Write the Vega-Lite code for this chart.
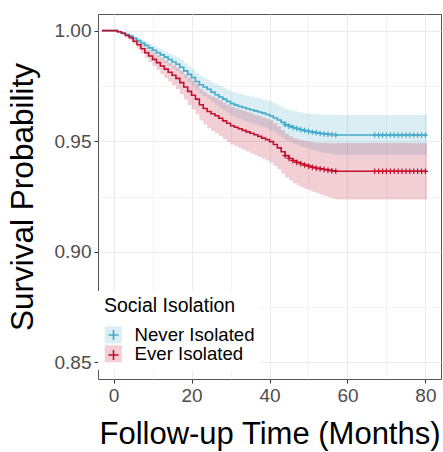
{
  "$schema": "https://vega.github.io/schema/vega-lite/v6.json",
  "description": "Kaplan-Meier survival by social isolation",
  "width": 343,
  "height": 365,
  "autosize": "none",
  "padding": {"left": 98, "top": 14, "right": 2, "bottom": 73},
  "datasets": {
    "curves": [
      {"time": -3, "group": "Never Isolated", "surv": 1.0, "lower": 1.0, "upper": 1.0},
      {"time": 0, "group": "Never Isolated", "surv": 1.0, "lower": 1.0, "upper": 1.0},
      {"time": 1, "group": "Never Isolated", "surv": 0.9995, "lower": 0.9992, "upper": 0.9998},
      {"time": 2, "group": "Never Isolated", "surv": 0.9988, "lower": 0.9983, "upper": 0.9993},
      {"time": 3, "group": "Never Isolated", "surv": 0.9982, "lower": 0.9975, "upper": 0.9989},
      {"time": 4, "group": "Never Isolated", "surv": 0.9975, "lower": 0.9966, "upper": 0.9984},
      {"time": 5, "group": "Never Isolated", "surv": 0.9965, "lower": 0.9955, "upper": 0.9975},
      {"time": 6, "group": "Never Isolated", "surv": 0.9955, "lower": 0.9943, "upper": 0.9967},
      {"time": 7, "group": "Never Isolated", "surv": 0.9944, "lower": 0.993, "upper": 0.9958},
      {"time": 8, "group": "Never Isolated", "surv": 0.9933, "lower": 0.9917, "upper": 0.9949},
      {"time": 9, "group": "Never Isolated", "surv": 0.9922, "lower": 0.9904, "upper": 0.994},
      {"time": 10, "group": "Never Isolated", "surv": 0.9911, "lower": 0.9891, "upper": 0.9931},
      {"time": 11, "group": "Never Isolated", "surv": 0.99, "lower": 0.9878, "upper": 0.9922},
      {"time": 12, "group": "Never Isolated", "surv": 0.989, "lower": 0.9866, "upper": 0.9914},
      {"time": 13, "group": "Never Isolated", "surv": 0.988, "lower": 0.9854, "upper": 0.9906},
      {"time": 14, "group": "Never Isolated", "surv": 0.9869, "lower": 0.9841, "upper": 0.9897},
      {"time": 15, "group": "Never Isolated", "surv": 0.9858, "lower": 0.9828, "upper": 0.9888},
      {"time": 16, "group": "Never Isolated", "surv": 0.9848, "lower": 0.9817, "upper": 0.9879},
      {"time": 17, "group": "Never Isolated", "surv": 0.9834, "lower": 0.9801, "upper": 0.9867},
      {"time": 18, "group": "Never Isolated", "surv": 0.9818, "lower": 0.9784, "upper": 0.9852},
      {"time": 19, "group": "Never Isolated", "surv": 0.9802, "lower": 0.9766, "upper": 0.9838},
      {"time": 20, "group": "Never Isolated", "surv": 0.9788, "lower": 0.9751, "upper": 0.9825},
      {"time": 21, "group": "Never Isolated", "surv": 0.977, "lower": 0.9731, "upper": 0.9809},
      {"time": 22, "group": "Never Isolated", "surv": 0.9755, "lower": 0.9715, "upper": 0.9795},
      {"time": 23, "group": "Never Isolated", "surv": 0.9745, "lower": 0.9703, "upper": 0.9787},
      {"time": 24, "group": "Never Isolated", "surv": 0.9735, "lower": 0.9692, "upper": 0.9778},
      {"time": 25, "group": "Never Isolated", "surv": 0.9722, "lower": 0.9677, "upper": 0.9767},
      {"time": 26, "group": "Never Isolated", "surv": 0.971, "lower": 0.9663, "upper": 0.9757},
      {"time": 27, "group": "Never Isolated", "surv": 0.97, "lower": 0.9651, "upper": 0.9749},
      {"time": 28, "group": "Never Isolated", "surv": 0.969, "lower": 0.9639, "upper": 0.9741},
      {"time": 29, "group": "Never Isolated", "surv": 0.968, "lower": 0.9627, "upper": 0.9733},
      {"time": 30, "group": "Never Isolated", "surv": 0.967, "lower": 0.9615, "upper": 0.9725},
      {"time": 31, "group": "Never Isolated", "surv": 0.9663, "lower": 0.9607, "upper": 0.9719},
      {"time": 32, "group": "Never Isolated", "surv": 0.9657, "lower": 0.96, "upper": 0.9714},
      {"time": 33, "group": "Never Isolated", "surv": 0.9652, "lower": 0.9594, "upper": 0.971},
      {"time": 34, "group": "Never Isolated", "surv": 0.9647, "lower": 0.9588, "upper": 0.9706},
      {"time": 35, "group": "Never Isolated", "surv": 0.9642, "lower": 0.9582, "upper": 0.9702},
      {"time": 36, "group": "Never Isolated", "surv": 0.9637, "lower": 0.9576, "upper": 0.9698},
      {"time": 37, "group": "Never Isolated", "surv": 0.9632, "lower": 0.957, "upper": 0.9694},
      {"time": 38, "group": "Never Isolated", "surv": 0.9627, "lower": 0.9564, "upper": 0.969},
      {"time": 39, "group": "Never Isolated", "surv": 0.9621, "lower": 0.9557, "upper": 0.9685},
      {"time": 40, "group": "Never Isolated", "surv": 0.9614, "lower": 0.9549, "upper": 0.9679},
      {"time": 41, "group": "Never Isolated", "surv": 0.9605, "lower": 0.9539, "upper": 0.9671},
      {"time": 42, "group": "Never Isolated", "surv": 0.9596, "lower": 0.9528, "upper": 0.9664},
      {"time": 43, "group": "Never Isolated", "surv": 0.9585, "lower": 0.9516, "upper": 0.9654},
      {"time": 44, "group": "Never Isolated", "surv": 0.9575, "lower": 0.9504, "upper": 0.9646},
      {"time": 45, "group": "Never Isolated", "surv": 0.9568, "lower": 0.9496, "upper": 0.964},
      {"time": 46, "group": "Never Isolated", "surv": 0.9562, "lower": 0.9488, "upper": 0.9636},
      {"time": 47, "group": "Never Isolated", "surv": 0.9557, "lower": 0.9482, "upper": 0.9632},
      {"time": 48, "group": "Never Isolated", "surv": 0.9552, "lower": 0.9475, "upper": 0.9629},
      {"time": 49, "group": "Never Isolated", "surv": 0.9548, "lower": 0.947, "upper": 0.9626},
      {"time": 50, "group": "Never Isolated", "surv": 0.9544, "lower": 0.9464, "upper": 0.9624},
      {"time": 51, "group": "Never Isolated", "surv": 0.9541, "lower": 0.9459, "upper": 0.9623},
      {"time": 52, "group": "Never Isolated", "surv": 0.9538, "lower": 0.9455, "upper": 0.9621},
      {"time": 53, "group": "Never Isolated", "surv": 0.9535, "lower": 0.945, "upper": 0.962},
      {"time": 54, "group": "Never Isolated", "surv": 0.9533, "lower": 0.9447, "upper": 0.9619},
      {"time": 55, "group": "Never Isolated", "surv": 0.9531, "lower": 0.9443, "upper": 0.9619},
      {"time": 56, "group": "Never Isolated", "surv": 0.953, "lower": 0.9441, "upper": 0.9619},
      {"time": 57, "group": "Never Isolated", "surv": 0.9528, "lower": 0.9438, "upper": 0.9618},
      {"time": 80.4, "group": "Never Isolated", "surv": 0.9528, "lower": 0.9438, "upper": 0.9618},
      {"time": -3, "group": "Ever Isolated", "surv": 1.0, "lower": 1.0, "upper": 1.0},
      {"time": 0, "group": "Ever Isolated", "surv": 1.0, "lower": 1.0, "upper": 1.0},
      {"time": 1, "group": "Ever Isolated", "surv": 0.9995, "lower": 0.9992, "upper": 0.9998},
      {"time": 2, "group": "Ever Isolated", "surv": 0.9988, "lower": 0.9982, "upper": 0.9994},
      {"time": 3, "group": "Ever Isolated", "surv": 0.9978, "lower": 0.9969, "upper": 0.9987},
      {"time": 4, "group": "Ever Isolated", "surv": 0.9968, "lower": 0.9956, "upper": 0.998},
      {"time": 5, "group": "Ever Isolated", "surv": 0.9952, "lower": 0.9937, "upper": 0.9967},
      {"time": 6, "group": "Ever Isolated", "surv": 0.9936, "lower": 0.9918, "upper": 0.9954},
      {"time": 7, "group": "Ever Isolated", "surv": 0.9918, "lower": 0.9897, "upper": 0.9939},
      {"time": 8, "group": "Ever Isolated", "surv": 0.99, "lower": 0.9876, "upper": 0.9924},
      {"time": 9, "group": "Ever Isolated", "surv": 0.9885, "lower": 0.9858, "upper": 0.9912},
      {"time": 10, "group": "Ever Isolated", "surv": 0.987, "lower": 0.984, "upper": 0.99},
      {"time": 11, "group": "Ever Isolated", "surv": 0.9855, "lower": 0.9822, "upper": 0.9888},
      {"time": 12, "group": "Ever Isolated", "surv": 0.984, "lower": 0.9804, "upper": 0.9876},
      {"time": 13, "group": "Ever Isolated", "surv": 0.9826, "lower": 0.9787, "upper": 0.9865},
      {"time": 14, "group": "Ever Isolated", "surv": 0.9812, "lower": 0.977, "upper": 0.9854},
      {"time": 15, "group": "Ever Isolated", "surv": 0.9798, "lower": 0.9753, "upper": 0.9843},
      {"time": 16, "group": "Ever Isolated", "surv": 0.9784, "lower": 0.9735, "upper": 0.9833},
      {"time": 17, "group": "Ever Isolated", "surv": 0.9765, "lower": 0.9712, "upper": 0.9818},
      {"time": 18, "group": "Ever Isolated", "surv": 0.9745, "lower": 0.9688, "upper": 0.9802},
      {"time": 19, "group": "Ever Isolated", "surv": 0.9725, "lower": 0.9664, "upper": 0.9786},
      {"time": 20, "group": "Ever Isolated", "surv": 0.9708, "lower": 0.9643, "upper": 0.9773},
      {"time": 21, "group": "Ever Isolated", "surv": 0.969, "lower": 0.9622, "upper": 0.9758},
      {"time": 22, "group": "Ever Isolated", "surv": 0.9665, "lower": 0.9595, "upper": 0.9735},
      {"time": 23, "group": "Ever Isolated", "surv": 0.9648, "lower": 0.9575, "upper": 0.9721},
      {"time": 24, "group": "Ever Isolated", "surv": 0.9634, "lower": 0.9558, "upper": 0.971},
      {"time": 25, "group": "Ever Isolated", "surv": 0.9624, "lower": 0.9546, "upper": 0.9702},
      {"time": 26, "group": "Ever Isolated", "surv": 0.9615, "lower": 0.9536, "upper": 0.9694},
      {"time": 27, "group": "Ever Isolated", "surv": 0.9604, "lower": 0.9523, "upper": 0.9685},
      {"time": 28, "group": "Ever Isolated", "surv": 0.9592, "lower": 0.951, "upper": 0.9674},
      {"time": 29, "group": "Ever Isolated", "surv": 0.9581, "lower": 0.9497, "upper": 0.9665},
      {"time": 30, "group": "Ever Isolated", "surv": 0.957, "lower": 0.9485, "upper": 0.9655},
      {"time": 31, "group": "Ever Isolated", "surv": 0.9563, "lower": 0.9477, "upper": 0.9649},
      {"time": 32, "group": "Ever Isolated", "surv": 0.9556, "lower": 0.9469, "upper": 0.9643},
      {"time": 33, "group": "Ever Isolated", "surv": 0.9549, "lower": 0.9461, "upper": 0.9637},
      {"time": 34, "group": "Ever Isolated", "surv": 0.9542, "lower": 0.9453, "upper": 0.9631},
      {"time": 35, "group": "Ever Isolated", "surv": 0.9536, "lower": 0.9446, "upper": 0.9626},
      {"time": 36, "group": "Ever Isolated", "surv": 0.9529, "lower": 0.9438, "upper": 0.962},
      {"time": 37, "group": "Ever Isolated", "surv": 0.9522, "lower": 0.943, "upper": 0.9614},
      {"time": 38, "group": "Ever Isolated", "surv": 0.9514, "lower": 0.9421, "upper": 0.9607},
      {"time": 39, "group": "Ever Isolated", "surv": 0.9507, "lower": 0.9413, "upper": 0.9601},
      {"time": 40, "group": "Ever Isolated", "surv": 0.9498, "lower": 0.9403, "upper": 0.9593},
      {"time": 41, "group": "Ever Isolated", "surv": 0.9485, "lower": 0.9389, "upper": 0.9581},
      {"time": 42, "group": "Ever Isolated", "surv": 0.947, "lower": 0.9373, "upper": 0.9567},
      {"time": 43, "group": "Ever Isolated", "surv": 0.9452, "lower": 0.9354, "upper": 0.955},
      {"time": 44, "group": "Ever Isolated", "surv": 0.9435, "lower": 0.9336, "upper": 0.9534},
      {"time": 45, "group": "Ever Isolated", "surv": 0.9422, "lower": 0.9322, "upper": 0.9522},
      {"time": 46, "group": "Ever Isolated", "surv": 0.9412, "lower": 0.931, "upper": 0.9514},
      {"time": 47, "group": "Ever Isolated", "surv": 0.9404, "lower": 0.93, "upper": 0.9508},
      {"time": 48, "group": "Ever Isolated", "surv": 0.9398, "lower": 0.9292, "upper": 0.9504},
      {"time": 49, "group": "Ever Isolated", "surv": 0.9392, "lower": 0.9284, "upper": 0.95},
      {"time": 50, "group": "Ever Isolated", "surv": 0.9387, "lower": 0.9277, "upper": 0.9497},
      {"time": 51, "group": "Ever Isolated", "surv": 0.9382, "lower": 0.927, "upper": 0.9494},
      {"time": 52, "group": "Ever Isolated", "surv": 0.9378, "lower": 0.9263, "upper": 0.9493},
      {"time": 53, "group": "Ever Isolated", "surv": 0.9375, "lower": 0.9258, "upper": 0.9492},
      {"time": 54, "group": "Ever Isolated", "surv": 0.9372, "lower": 0.9252, "upper": 0.9492},
      {"time": 55, "group": "Ever Isolated", "surv": 0.9369, "lower": 0.9247, "upper": 0.9491},
      {"time": 56, "group": "Ever Isolated", "surv": 0.9366, "lower": 0.9241, "upper": 0.9491},
      {"time": 57, "group": "Ever Isolated", "surv": 0.9364, "lower": 0.9236, "upper": 0.9492},
      {"time": 80.4, "group": "Ever Isolated", "surv": 0.9364, "lower": 0.9236, "upper": 0.9492}
    ],
    "censored": [
      {"time": 44, "group": "Never Isolated", "surv": 0.9575},
      {"time": 45, "group": "Never Isolated", "surv": 0.9568},
      {"time": 46, "group": "Never Isolated", "surv": 0.9562},
      {"time": 47, "group": "Never Isolated", "surv": 0.9557},
      {"time": 48, "group": "Never Isolated", "surv": 0.9552},
      {"time": 49, "group": "Never Isolated", "surv": 0.9548},
      {"time": 50, "group": "Never Isolated", "surv": 0.9544},
      {"time": 51, "group": "Never Isolated", "surv": 0.9541},
      {"time": 52, "group": "Never Isolated", "surv": 0.9538},
      {"time": 53, "group": "Never Isolated", "surv": 0.9535},
      {"time": 54, "group": "Never Isolated", "surv": 0.9533},
      {"time": 55, "group": "Never Isolated", "surv": 0.9531},
      {"time": 56, "group": "Never Isolated", "surv": 0.953},
      {"time": 57, "group": "Never Isolated", "surv": 0.9528},
      {"time": 67, "group": "Never Isolated", "surv": 0.9528},
      {"time": 68, "group": "Never Isolated", "surv": 0.9528},
      {"time": 69, "group": "Never Isolated", "surv": 0.9528},
      {"time": 70, "group": "Never Isolated", "surv": 0.9528},
      {"time": 71, "group": "Never Isolated", "surv": 0.9528},
      {"time": 72, "group": "Never Isolated", "surv": 0.9528},
      {"time": 73, "group": "Never Isolated", "surv": 0.9528},
      {"time": 74, "group": "Never Isolated", "surv": 0.9528},
      {"time": 75, "group": "Never Isolated", "surv": 0.9528},
      {"time": 76, "group": "Never Isolated", "surv": 0.9528},
      {"time": 77, "group": "Never Isolated", "surv": 0.9528},
      {"time": 78, "group": "Never Isolated", "surv": 0.9528},
      {"time": 79, "group": "Never Isolated", "surv": 0.9528},
      {"time": 80, "group": "Never Isolated", "surv": 0.9528},
      {"time": 44, "group": "Ever Isolated", "surv": 0.9435},
      {"time": 45, "group": "Ever Isolated", "surv": 0.9422},
      {"time": 46, "group": "Ever Isolated", "surv": 0.9412},
      {"time": 47, "group": "Ever Isolated", "surv": 0.9404},
      {"time": 48, "group": "Ever Isolated", "surv": 0.9398},
      {"time": 49, "group": "Ever Isolated", "surv": 0.9392},
      {"time": 50, "group": "Ever Isolated", "surv": 0.9387},
      {"time": 51, "group": "Ever Isolated", "surv": 0.9382},
      {"time": 52, "group": "Ever Isolated", "surv": 0.9378},
      {"time": 53, "group": "Ever Isolated", "surv": 0.9375},
      {"time": 54, "group": "Ever Isolated", "surv": 0.9372},
      {"time": 55, "group": "Ever Isolated", "surv": 0.9369},
      {"time": 56, "group": "Ever Isolated", "surv": 0.9366},
      {"time": 57, "group": "Ever Isolated", "surv": 0.9364},
      {"time": 67, "group": "Ever Isolated", "surv": 0.9364},
      {"time": 68, "group": "Ever Isolated", "surv": 0.9364},
      {"time": 69, "group": "Ever Isolated", "surv": 0.9364},
      {"time": 70, "group": "Ever Isolated", "surv": 0.9364},
      {"time": 71, "group": "Ever Isolated", "surv": 0.9364},
      {"time": 72, "group": "Ever Isolated", "surv": 0.9364},
      {"time": 73, "group": "Ever Isolated", "surv": 0.9364},
      {"time": 74, "group": "Ever Isolated", "surv": 0.9364},
      {"time": 75, "group": "Ever Isolated", "surv": 0.9364},
      {"time": 76, "group": "Ever Isolated", "surv": 0.9364},
      {"time": 77, "group": "Ever Isolated", "surv": 0.9364},
      {"time": 78, "group": "Ever Isolated", "surv": 0.9364},
      {"time": 79, "group": "Ever Isolated", "surv": 0.9364},
      {"time": 80, "group": "Ever Isolated", "surv": 0.9364}
    ]
  },
  "encoding": {
    "x": {
      "field": "time",
      "type": "quantitative",
      "scale": {"domain": [-4, 84], "nice": false, "zero": false},
      "axis": {
        "title": "Follow-up Time (Months)",
        "values": [0, 10, 20, 30, 40, 50, 60, 70, 80],
        "labelExpr": "datum.value % 20 == 0 ? datum.label : ''",
        "tickOpacity": {"condition": {"test": "datum.value % 20 == 0", "value": 1}, "value": 0},
        "gridWidth": {"condition": {"test": "datum.value % 20 == 0", "value": 1.1}, "value": 0.6},
        "titlePadding": 14
      }
    }
  },
  "layer": [
    {
      "data": {"name": "curves"},
      "mark": {"type": "area", "interpolate": "step-after", "fillOpacity": 0.2},
      "encoding": {
        "y": {
          "field": "lower",
          "type": "quantitative",
          "scale": {"domain": [0.8425, 1.0075], "nice": false, "zero": false},
          "axis": {
            "title": "Survival Probability",
            "values": [0.85, 0.875, 0.9, 0.925, 0.95, 0.975, 1.0],
            "labelExpr": "round(datum.value * 1000) % 50 == 0 ? format(datum.value, '.2f') : ''",
            "tickOpacity": {"condition": {"test": "round(datum.value * 1000) % 50 == 0", "value": 1}, "value": 0},
            "gridWidth": {"condition": {"test": "round(datum.value * 1000) % 50 == 0", "value": 1.1}, "value": 0.6},
            "titlePadding": 15,
            "titleFontSize": 31.5
          }
        },
        "y2": {"field": "upper"},
        "fill": {
          "field": "group",
          "type": "nominal",
          "scale": {"domain": ["Never Isolated", "Ever Isolated"], "range": ["#45A9C8", "#C0112D"]},
          "legend": {
            "title": "Social Isolation",
            "orient": "none",
            "legendX": 0,
            "legendY": 277,
            "padding": 6,
            "fillColor": "white",
            "symbolType": "square",
            "symbolSize": 289,
            "symbolOpacity": 0.2,
            "symbolStrokeWidth": 0,
            "titlePadding": 9,
            "rowPadding": -2,
            "labelOffset": 12
          }
        }
      }
    },
    {
      "data": {"name": "curves"},
      "mark": {"type": "line", "interpolate": "step-after", "strokeWidth": 1.6},
      "encoding": {
        "y": {"field": "surv", "type": "quantitative"},
        "stroke": {
          "field": "group",
          "type": "nominal",
          "sort": ["Never Isolated", "Ever Isolated"],
          "scale": {"range": ["#45A9C8", "#C0112D"]},
          "legend": {
            "title": " ",
            "orient": "none",
            "legendX": 0,
            "legendY": 277,
            "padding": 6,
            "symbolType": "M0,-0.6V0.6M-0.6,0H0.6",
            "symbolSize": 289,
            "symbolStrokeWidth": 1.6,
            "symbolFillColor": "transparent",
            "labelExpr": "' '",
            "titlePadding": 9,
            "rowPadding": -2,
            "labelOffset": 12
          }
        }
      }
    },
    {
      "data": {"name": "censored"},
      "mark": {"type": "point", "shape": "M0,-1V1M-1,0H1", "size": 30, "filled": false, "strokeWidth": 1.2, "opacity": 1},
      "encoding": {
        "y": {"field": "surv", "type": "quantitative"},
        "stroke": {"field": "group", "type": "nominal", "sort": ["Never Isolated", "Ever Isolated"]}
      }
    }
  ],
  "config": {
    "font": "Liberation Sans",
    "view": {"stroke": "#555555", "strokeWidth": 1},
    "axis": {
      "domain": false,
      "gridColor": "#EBEBEB",
      "tickColor": "#333333",
      "tickSize": 4,
      "labelFontSize": 19,
      "labelColor": "#4D4D4D",
      "labelPadding": 3,
      "titleFontSize": 31,
      "titleFontWeight": "normal",
      "titleColor": "#000000"
    },
    "legend": {
      "titleFontSize": 19.5,
      "titleFontWeight": "normal",
      "titleColor": "#000000",
      "labelFontSize": 18.6,
      "labelColor": "#000000"
    }
  }
}
